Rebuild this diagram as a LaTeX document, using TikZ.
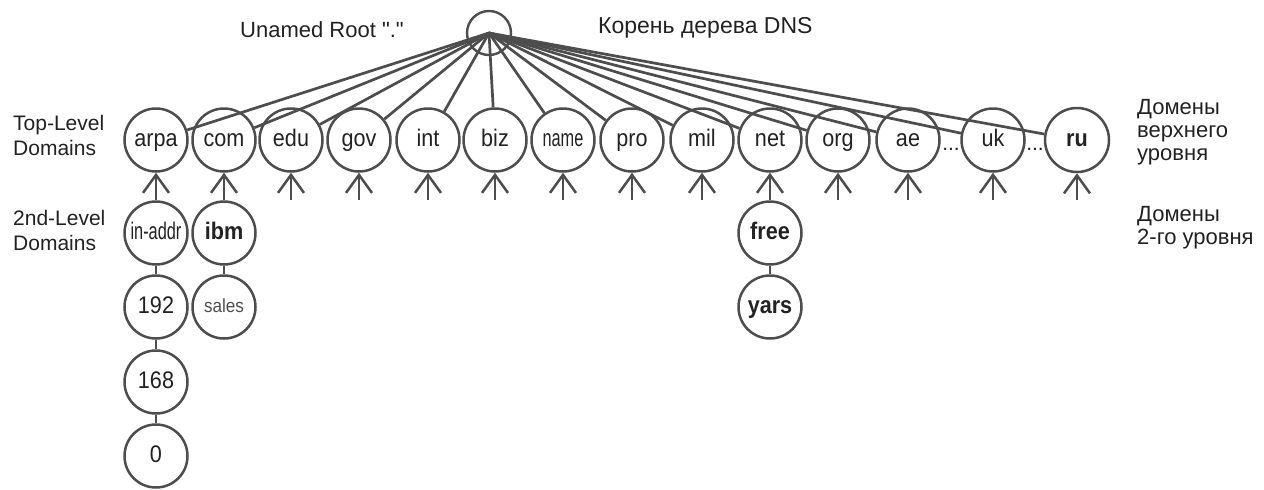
\documentclass[tikz,border=0pt]{standalone}
\usepackage{fontspec}
\setmainfont{Liberation Sans}
\newfontfamily\nodefont[FakeStretch=0.9]{Liberation Sans}
\newfontfamily\narrowfont[FakeStretch=0.68]{Liberation Sans}
\newfontfamily\rawfont[Ligatures=TeXOff]{Liberation Sans}
\usetikzlibrary{arrows.meta,calc}
\definecolor{ln}{HTML}{4D4D4D}
\definecolor{tx}{HTML}{222222}
\begin{document}
\begin{tikzpicture}[x=1pt,y=-1pt,
  dom/.style={circle, draw=ln, line width=2.5pt, minimum size=63pt, inner sep=0pt,
              font=\nodefont\fontsize{24}{24}\selectfont, text=tx,
              text height=12.5pt, text depth=0pt},
  link/.style={draw=ln, line width=2.7pt},
  chain/.style={draw=ln, line width=2.5pt},
  uparr/.style={draw=ln, line width=2.5pt, -{Straight Barb[length=18pt,width=26pt]}},
  lbl/.style={inner sep=0pt, text=tx, font=\fontsize{22}{23}\selectfont},
  dots/.style={inner sep=0pt, text=tx, font=\fontsize{21}{21}\selectfont}]
\useasboundingbox[fill=white] (0,0) rectangle (1264,490);

% root
\node[circle, draw=ln, line width=2.4pt, minimum size=44pt, inner sep=0pt] (root) at (489,33) {};

% labels
\node[lbl, font=\rawfont\fontsize{22}{23}\selectfont, anchor=base] (unamed) at (322,37) {Unamed Root "."};
\node[lbl, font=\fontsize{23}{23}\selectfont, anchor=base west] (korn) at (598,33) {Корень дерева DNS};
\node[lbl, font=\fontsize{21}{25}\selectfont, align=left, anchor=north west] (tldlbl) at (13,115) {Top-Level\\Domains};
\node[lbl, font=\fontsize{21}{25}\selectfont, align=left, anchor=north west] (sldlbl) at (13,210) {2nd-Level\\Domains};
\node[lbl, align=left, anchor=north west] (tldru) at (1137,99) {Домены\\верхнего\\уровня};
\node[lbl, align=left, anchor=north west] (sldru) at (1137,206) {Домены\\2-го уровня};

% top-level domains
\node[dom] (arpa) at (156,140) {arpa};
\node[dom] (com)  at (224,140) {com};
\node[dom] (edu)  at (291,140) {edu};
\node[dom] (gov)  at (359,140) {gov};
\node[dom] (int)  at (428,140) {int};
\node[dom] (biz)  at (495,140) {biz};
\node[dom] (name) at (563,140) {\narrowfont name};
\node[dom] (pro)  at (632,140) {pro};
\node[dom] (mil)  at (702,140) {mil};
\node[dom] (net)  at (770,140) {net};
\node[dom] (org)  at (838,140) {org};
\node[dom] (ae)   at (908,140) {ae};
\node[dom] (uk)   at (993,140) {uk};
\node[dom, minimum size=64pt] (ru) at (1077,140) {\bfseries ru};
\node[dots] (dots1) at (951,149) {...};
\node[dots] (dots2) at (1035,149) {...};

% second-level and deeper
\node[dom] (inaddr) at (156,233) {\narrowfont in-addr};
\node[dom] (n192)   at (156,307) {192};
\node[dom] (n168)   at (156,382) {168};
\node[dom] (n0)     at (156,456) {0};
\node[dom] (ibm)    at (224,233) {\bfseries ibm};
\node[dom, font=\nodefont\fontsize{19}{19}\selectfont, text=ln, text height=10pt] (sales) at (224,307) {sales};
\node[dom] (free)   at (770,233) {\bfseries free};
\node[dom] (yars)   at (770,307) {\bfseries yars};

% root links
\foreach \n in {arpa,com,edu,gov,int,biz,name,pro,mil,net,org,ae,uk,ru}
  \draw[link] (root.center) -- (\n);

% up arrows of leaf TLDs
\foreach \n in {edu,gov,int,biz,name,pro,mil,org,ae,uk,ru}{
  \coordinate (\n-foot) at ($(\n.south)+(0,27)$);
  \draw[uparr] (\n-foot) -- (\n.south);
}

% arrows from second level to TLD
\draw[uparr] (inaddr) -- (arpa);
\draw[uparr] (ibm) -- (com);
\draw[uparr] (free) -- (net);

% chains
\draw[chain] (inaddr) -- (n192);
\draw[chain] (n192) -- (n168);
\draw[chain] (n168) -- (n0);
\draw[chain] (ibm) -- (sales);
\draw[chain] (free) -- (yars);
\end{tikzpicture}
\end{document}
